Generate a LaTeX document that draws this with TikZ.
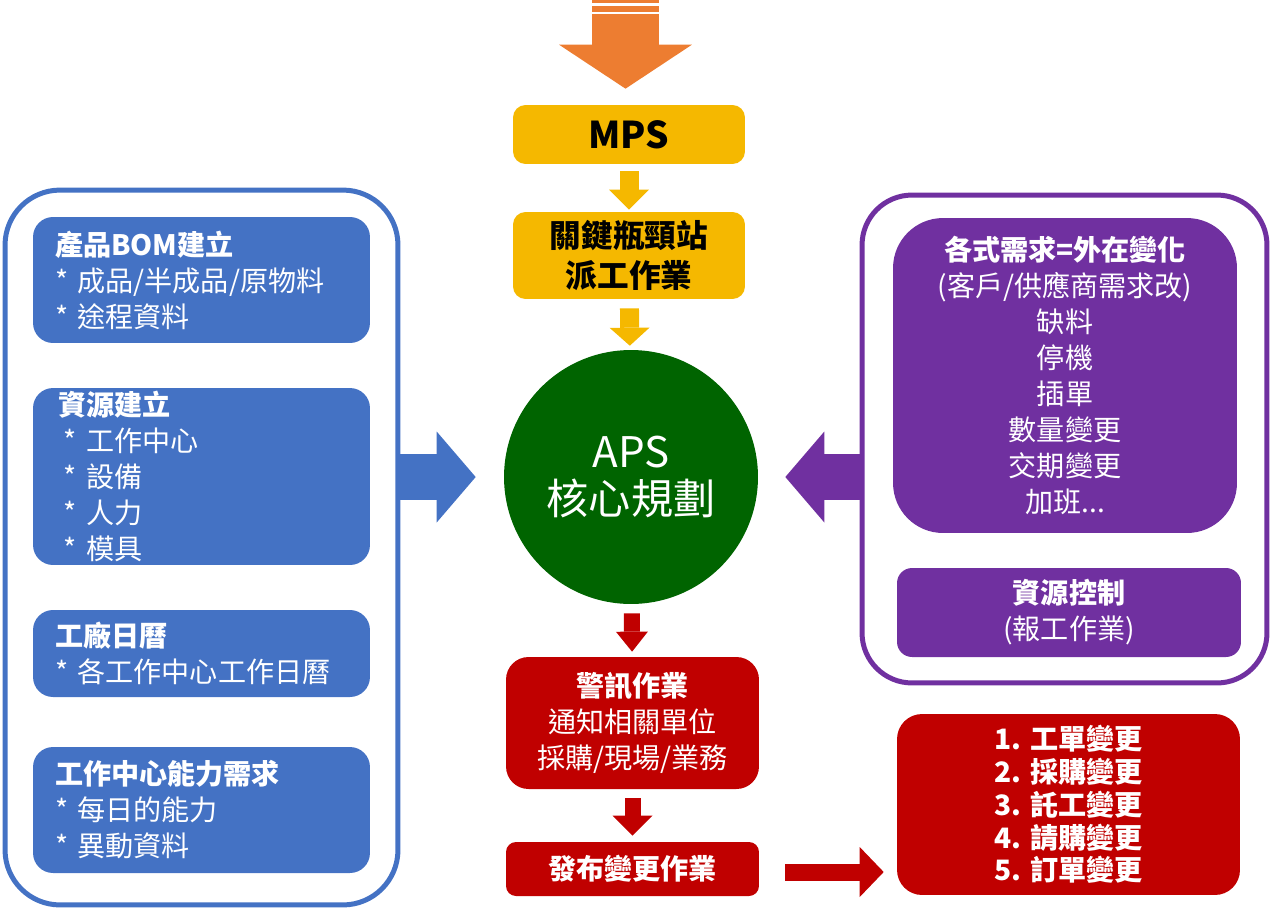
\documentclass[tikz,border=0pt]{standalone}
\usepackage{fontspec}
\setmainfont{Noto Sans CJK TC}
\usetikzlibrary{arrows.meta,calc}
\definecolor{aps-blue}{HTML}{4472C4}
\definecolor{aps-purple}{HTML}{7030A0}
\definecolor{aps-yellow}{HTML}{F5B800}
\definecolor{aps-orange}{HTML}{ED7D31}
\definecolor{aps-green}{HTML}{006400}
\definecolor{aps-red}{HTML}{C00000}

\begin{document}
\begin{tikzpicture}[x=0.02cm,y=-0.02cm,
  txt/.style={font=\fontsize{16}{20.5}\selectfont},
  leftbox/.style={txt,fill=aps-blue,text=white,rounded corners=0.4cm,inner sep=0pt,
    text width=5.86cm,minimum width=6.74cm,align=left},
  rightbox/.style={txt,fill=aps-purple,text=white,inner sep=0pt,
    minimum width=6.88cm,align=center},
  midbox/.style={fill=aps-yellow,text=black,rounded corners=0.25cm,inner sep=0pt,
    minimum width=4.64cm,align=center,font=\fontsize{18}{22.7}\selectfont\bfseries},
  redbox/.style={txt,fill=aps-red,text=white,inner sep=0pt,align=center},
  frame/.style={line width=0.1cm,rounded corners=1.1cm,inner sep=0pt},
  blockarrow/.style n args={4}{draw=#1,line width=#2,
    -{Triangle[width=#3,length=#4,line width=0pt]}}]
  \useasboundingbox (0,0) rectangle (1271,910);

  % Venstre ramme med stamdata
  \node[frame,draw=aps-blue,minimum width=7.86cm,minimum height=14.3cm] (leftframe) at (201.5,547.5) {};
  \node[leftbox,minimum height=2.52cm] (bom) at (201.5,280) {\textbf{產品BOM建立}\\{}* 成品/半成品/原物料\\{}* 途程資料};
  \node[leftbox,minimum height=3.54cm] (res) at (201.5,476.5) {\hspace*{2pt}\textbf{資源建立}\\\hspace*{5pt}* 工作中心\\\hspace*{5pt}* 設備\\\hspace*{5pt}* 人力\\\hspace*{5pt}* 模具};
  \node[leftbox,minimum height=1.74cm] (cal) at (201.5,653.5) {\textbf{工廠日曆}\\{}* 各工作中心工作日曆};
  \node[leftbox,minimum height=2.52cm] (cap) at (201.5,810) {\textbf{工作中心能力需求}\\{}* 每日的能力\\{}* 異動資料};

  % Midterkolonne
  \node[midbox,minimum height=1.18cm,font=\fontsize{21}{24}\selectfont\bfseries] (mps) at (629,134.5) {MPS};
  \node[midbox,minimum height=1.74cm] (disp) at (629,255.5) {關鍵瓶頸站\\派工作業};
  \node[circle,fill=aps-green,text=white,minimum size=5.08cm,inner sep=0pt,align=center,
    font=\fontsize{24}{27}\selectfont] (aps) at (631,477) {APS\\核心規劃};
  \node[redbox,rounded corners=0.45cm,minimum width=5.06cm,minimum height=2.64cm] (warn) at (632.5,723) {\textbf{警訊作業}\\通知相關單位\\採購/現場/業務};
  \node[redbox,rounded corners=0.2cm,minimum width=5.06cm,minimum height=1.08cm] (release) at (632.5,869) {\textbf{發布變更作業}};

  % Hoejre ramme med ændringer
  \node[frame,draw=aps-purple,rounded corners=1cm,minimum width=8.1cm,minimum height=9.76cm] (rightframe) at (1064.5,439) {};
  \node[rightbox,rounded corners=1cm,minimum height=6.3cm] (demand) at (1065,375.5) {\textbf{各式需求=外在變化}\\(客戶/供應商需求改)\\缺料\\停機\\插單\\數量變更\\交期變更\\加班...};
  \node[rightbox,rounded corners=0.3cm,minimum height=1.78cm] (report) at (1069,612.5) {\textbf{資源控制}\\(報工作業)};

  % Resultater
  \node[redbox,rounded corners=0.5cm,minimum width=6.86cm,minimum height=3.62cm,align=left,
    font=\fontsize{16}{18.7}\selectfont\bfseries] (changes) at (1068.5,804.5) {1. 工單變更\\2. 採購變更\\3. 託工變更\\4. 請購變更\\5. 訂單變更};

  % Indgang ovenfra
  \fill[aps-orange] (592,0) rectangle (659,2.7);
  \fill[aps-orange] (592,5.7) rectangle (659,11.7);
  \coordinate (input) at (625.5,14);
  \draw[blockarrow={aps-orange}{1.34cm}{2.66cm}{0.88cm},shorten >=0.32cm] (input) -- (input |- mps.north);

  % Pile i midten
  \draw[blockarrow={aps-yellow}{0.38cm}{0.8cm}{0.4cm},shorten <=0.14cm,shorten >=0.04cm] (mps) -- (disp);
  \draw[blockarrow={aps-yellow}{0.38cm}{0.8cm}{0.36cm},shorten <=0.18cm,shorten >=0.08cm] (disp) -- (aps);
  \draw[blockarrow={aps-red}{0.32cm}{0.64cm}{0.4cm},shorten <=0.18cm,shorten >=0.1cm] (aps) -- (warn);
  \draw[blockarrow={aps-red}{0.32cm}{0.8cm}{0.4cm},shorten <=0.18cm,shorten >=0.12cm] (warn) -- (release);
  \draw[blockarrow={aps-red}{0.34cm}{1cm}{0.48cm},shorten <=0.52cm,shorten >=0.26cm] ($(release.east)+(0,3)$) -- ($(release.east -| changes.west)+(0,3)$);

  % Sidepile
  \draw[blockarrow={aps-blue}{0.92cm}{1.82cm}{0.78cm},shorten >=0.56cm] (leftframe.east |- aps) -- (aps.west);
  \draw[blockarrow={aps-purple}{0.92cm}{1.82cm}{0.78cm},shorten >=0.54cm] (rightframe.west |- aps) -- (aps.east);
\end{tikzpicture}
\end{document}
